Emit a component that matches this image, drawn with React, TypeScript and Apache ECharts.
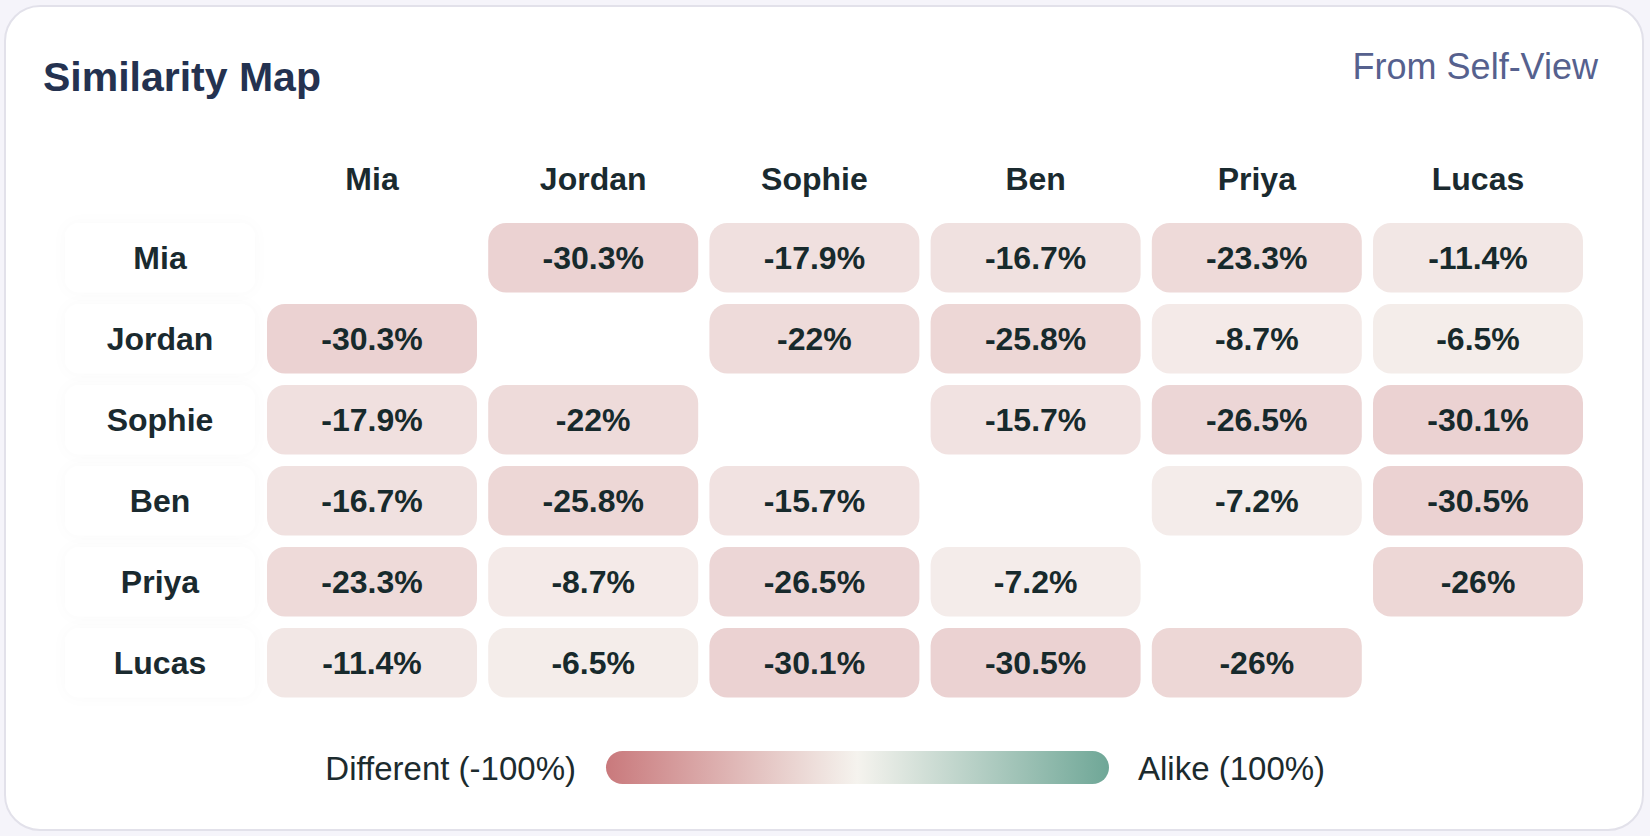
import React, { useEffect, useRef } from "react";
import * as echarts from "echarts";

const people = ["Mia", "Jordan", "Sophie", "Ben", "Priya", "Lucas"];
const rowMia = [null, -30.3, -17.9, -16.7, -23.3, -11.4];
const rowJordan = [-30.3, null, -22, -25.8, -8.7, -6.5];
const rowSophie = [-17.9, -22, null, -15.7, -26.5, -30.1];
const rowBen = [-16.7, -25.8, -15.7, null, -7.2, -30.5];
const rowPriya = [-23.3, -8.7, -26.5, -7.2, null, -26];
const rowLucas = [-11.4, -6.5, -30.1, -30.5, -26, null];
const rows = [rowMia, rowJordan, rowSophie, rowBen, rowPriya, rowLucas];

const legendColors = ["#c9797c", "#f5f3ee", "#6fa797"];
const cellColors = ["#cf838a", "#f7f4f1", "#6fa797"];
const legendLow = "Different (-100%)";
const legendHigh = "Alike (100%)";
const titleText = "Similarity Map";
const subtitleText = "From Self-View";

const FONT = "'Liberation Sans', Arial, Helvetica, sans-serif";

export default function App() {
  const ref = useRef<HTMLDivElement>(null);

  useEffect(() => {
    if (!ref.current) return;
    const chart = echarts.init(ref.current, undefined, { renderer: "svg" });

    const data: any[] = [];
    rows.forEach((row, yi) => {
      row.forEach((v, xi) => {
        if (v !== null) data.push([xi, yi, v]);
      });
    });

    const gapX = 11.2;
    const gapY = 11.5;

    const option: any = {
      animation: false,
      backgroundColor: "transparent",
      textStyle: { fontFamily: FONT },
      grid: { left: 261.4, top: 217.25, width: 1327.2, height: 486 },
      xAxis: {
        type: "category",
        data: people,
        position: "top",
        axisLine: { show: false },
        axisTick: { show: false },
        splitLine: { show: false },
        axisLabel: {
          fontSize: 32,
          fontWeight: "bold",
          color: "#1a2a2f",
          fontFamily: FONT,
          margin: 22,
        },
      },
      yAxis: {
        type: "category",
        data: people,
        inverse: true,
        axisLine: { show: false },
        axisTick: { show: false },
        splitLine: { show: false },
        axisLabel: {
          fontSize: 32,
          fontWeight: "bold",
          color: "#1a2a2f",
          fontFamily: FONT,
          align: "center",
          margin: 101.4,
          width: 190,
          lineHeight: 69,
          backgroundColor: "#ffffff",
          borderRadius: 14,
          shadowBlur: 14,
          shadowColor: "rgba(0,0,0,0.022)",
        },
      },
      visualMap: {
        show: false,
        type: "continuous",
        min: -100,
        max: 100,
        dimension: 2,
        seriesIndex: 0,
        inRange: { color: cellColors },
      },
      series: [
        {
          type: "custom",
          coordinateSystem: "cartesian2d",
          data,
          encode: { x: 0, y: 1 },
          renderItem: (params: any, api: any) => {
            const c = api.coord([api.value(0), api.value(1)]);
            const s = api.size([1, 1]);
            const w = s[0] - gapX;
            const h = s[1] - gapY;
            return {
              type: "rect",
              shape: { x: c[0] - w / 2, y: c[1] - h / 2, width: w, height: h, r: 18 },
              style: { fill: api.visual("color") },
              textContent: {
                style: {
                  text: api.value(2) + "%",
                  fontSize: 32,
                  fontWeight: "bold",
                  fill: "#172a2c",
                  fontFamily: FONT,
                },
              },
              textConfig: { position: "inside" },
            };
          },
        },
      ],
      graphic: [
        {
          type: "text",
          left: 43,
          top: 56,
          style: {
            text: titleText,
            fontSize: 41,
            fontWeight: "bold",
            fill: "#243250",
            fontFamily: FONT,
          },
        },
        {
          type: "text",
          right: 52,
          top: 48,
          style: {
            text: subtitleText,
            fontSize: 36,
            fill: "#56618e",
            fontFamily: FONT,
          },
        },
        {
          type: "rect",
          shape: { x: 606, y: 751, width: 503, height: 33, r: 16.5 },
          style: {
            fill: new echarts.graphic.LinearGradient(0, 0, 1, 0, [
              { offset: 0, color: legendColors[0] },
              { offset: 0.5, color: legendColors[1] },
              { offset: 1, color: legendColors[2] },
            ]),
          },
        },
        {
          type: "text",
          x: 576,
          y: 768,
          style: {
            text: legendLow,
            fontSize: 33,
            fill: "#1c2b2e",
            fontFamily: FONT,
            align: "right",
            verticalAlign: "middle",
          },
        },
        {
          type: "text",
          x: 1138,
          y: 768,
          style: {
            text: legendHigh,
            fontSize: 33,
            fill: "#1c2b2e",
            fontFamily: FONT,
            align: "left",
            verticalAlign: "middle",
          },
        },
      ],
    };

    chart.setOption(option);
    return () => chart.dispose();
  }, []);

  return (
    <div
      style={{
        position: "fixed",
        left: 0,
        top: 0,
        width: 1650,
        height: 836,
        background: "#f5f4fa",
        overflow: "hidden",
      }}
    >
      <div
        style={{
          position: "absolute",
          left: 4,
          top: 5,
          width: 1640,
          height: 826,
          boxSizing: "border-box",
          border: "2px solid #e2e1ea",
          borderRadius: 36,
          background: "#ffffff",
        }}
      />
      <div
        ref={ref}
        style={{ position: "absolute", left: 0, top: 0, width: 1650, height: 836 }}
      />
    </div>
  );
}
